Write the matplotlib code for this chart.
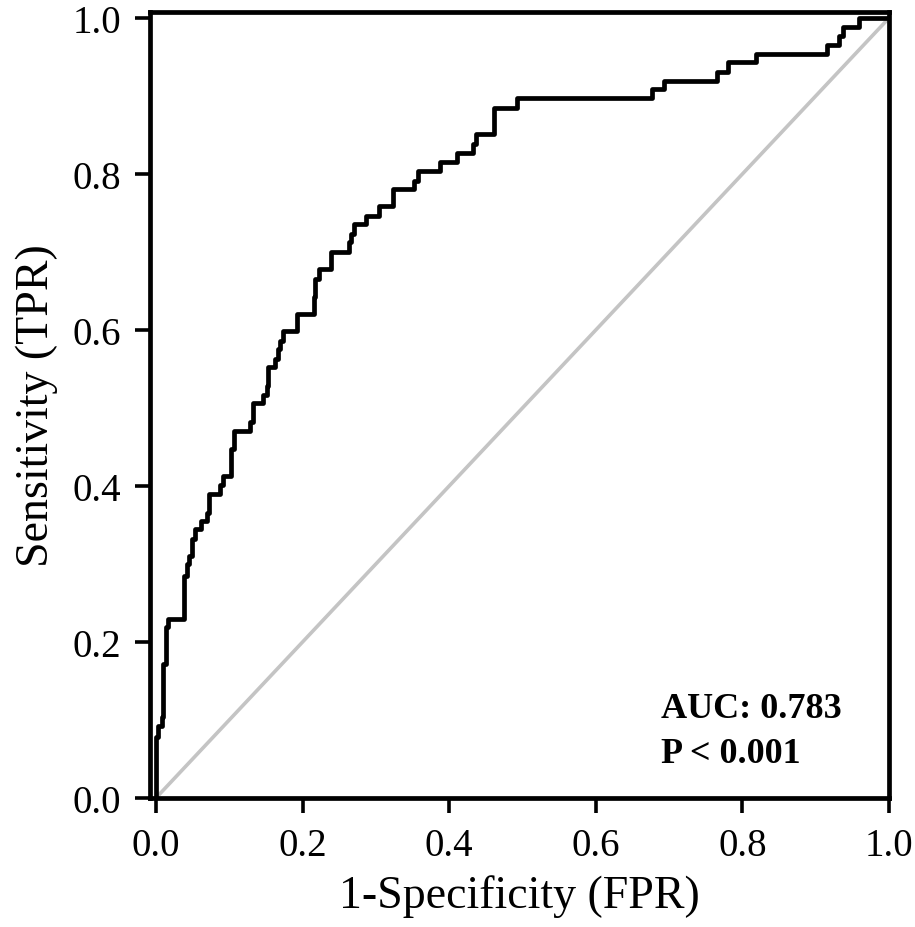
#set up modules
import numpy as np
import matplotlib.pyplot as plt

#ROC curve corners (FPR, TPR), drawn as steps
fpr = [0.0, 0.0, 0.003, 0.008, 0.010, 0.014, 0.016, 0.038, 0.042, 0.045,
       0.049, 0.053, 0.062, 0.069, 0.072, 0.087, 0.091, 0.103, 0.107, 0.128,
       0.132, 0.146, 0.151, 0.153, 0.163, 0.167, 0.169, 0.174, 0.192, 0.215,
       0.217, 0.222, 0.239, 0.264, 0.266, 0.270, 0.286, 0.304, 0.323, 0.352,
       0.357, 0.388, 0.411, 0.433, 0.437, 0.461, 0.493, 0.677, 0.693, 0.765,
       0.780, 0.818, 0.916, 0.932, 0.937, 0.959, 1.0]
tpr = [0.0, 0.078, 0.092, 0.104, 0.172, 0.219, 0.229, 0.285, 0.300, 0.310,
       0.332, 0.345, 0.355, 0.366, 0.390, 0.401, 0.413, 0.447, 0.470, 0.482,
       0.507, 0.517, 0.528, 0.552, 0.563, 0.576, 0.586, 0.599, 0.620, 0.642,
       0.665, 0.678, 0.700, 0.713, 0.723, 0.736, 0.746, 0.759, 0.781, 0.791,
       0.804, 0.816, 0.827, 0.838, 0.851, 0.885, 0.897, 0.909, 0.919, 0.931,
       0.943, 0.954, 0.965, 0.977, 0.988, 1.0, 1.0]

auc_text = 'AUC: 0.783'
p_text = 'P < 0.001'
ticks = [0.0, 0.2, 0.4, 0.6, 0.8, 1.0]

plt.rcParams['font.family'] = ['Liberation Serif', 'DejaVu Serif']

fig = plt.figure(figsize=(9.15, 9.28), dpi=100)
ax = fig.add_axes([0.164, 0.139, 0.8076, 0.847])

#reference line
ax.plot([0, 1], [0, 1], color='#c4c4c4', linewidth=2.6, zorder=1)
#roc curve
ax.plot(fpr, tpr, color='black', linewidth=3.4, drawstyle='steps-post', zorder=2)

ax.set_xlim(-0.008, 1.0)
ax.set_ylim(0.0, 1.0077)
ax.set_xticks(ticks)
ax.set_yticks(ticks)
ax.set_xticklabels([f'{t:.1f}' for t in ticks])
ax.set_yticklabels([f'{t:.1f}' for t in ticks])
ax.tick_params(direction='out', length=11, width=2.6, labelsize=28, pad=10)
for sp in ax.spines.values():
    sp.set_linewidth(3.4)

ax.set_xlabel('1-Specificity (FPR)', fontsize=33, labelpad=7)
ax.set_ylabel('Sensitivity (TPR)', fontsize=33, labelpad=10)

ax.text(0.689, 0.104, auc_text, fontsize=26, fontweight='bold', va='baseline')
ax.text(0.689, 0.046, p_text, fontsize=26, fontweight='bold', va='baseline')

plt.savefig('out.png', dpi=100)
